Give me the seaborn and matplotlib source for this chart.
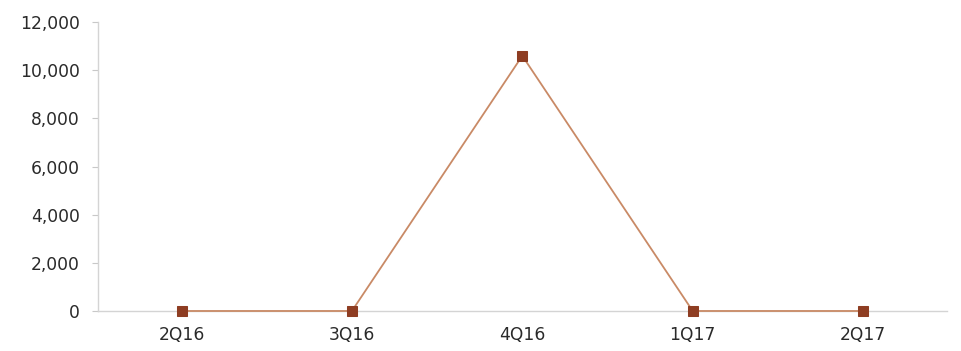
import matplotlib
matplotlib.use("Agg")
import matplotlib.pyplot as plt
import seaborn as sns
import pandas as pd
from matplotlib.ticker import FuncFormatter

quarters = ["2Q16", "3Q16", "4Q16", "1Q17", "2Q17"]
values = [0, 0, 10600, 0, 0]

sns.set_theme(style="white")
plt.rcParams["font.family"] = ["DejaVu Sans"]

df = pd.DataFrame({"quarter": quarters, "value": values})

fig = plt.figure(figsize=(9.61, 3.51), dpi=100)
ax = fig.add_axes([0.102, 0.114, 0.883, 0.823])

sns.lineplot(data=df, x="quarter", y="value", ax=ax, sort=False,
             color="#c98a66", linewidth=1.3, marker="s", markersize=7,
             markerfacecolor="#8e3d22", markeredgecolor="#8e3d22",
             clip_on=False, zorder=3)

ax.set_xlim(-0.49, len(quarters) - 0.51)
ax.set_ylim(0, 12000)
ax.set_yticks(range(0, 12001, 2000))
ax.yaxis.set_major_formatter(FuncFormatter(lambda v, p: f"{int(v):,}"))
ax.set_xlabel("")
ax.set_ylabel("")

for side in ["top", "right"]:
    ax.spines[side].set_visible(False)
for side in ["left", "bottom"]:
    ax.spines[side].set_color("#d4d4d4")
    ax.spines[side].set_linewidth(1.0)

ax.tick_params(axis="y", which="major", left=True, length=4, width=0.8,
               color="#c8c8c8", pad=9, labelsize=12.3, labelcolor="#2a2a2a")
ax.tick_params(axis="x", which="major", bottom=False, pad=5,
               labelsize=12.3, labelcolor="#2a2a2a")

fig.savefig("out.png", dpi=100)
